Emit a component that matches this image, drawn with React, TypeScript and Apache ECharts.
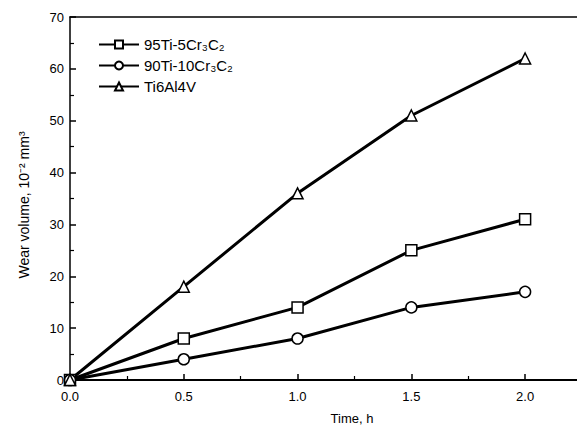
import React, { useEffect, useRef } from "react";
import * as echarts from "echarts";

const timeH = [0, 0.5, 1.0, 1.5, 2.0];
const s95Ti = [0, 8, 14, 25, 31];
const s90Ti = [0, 4, 8, 14, 17];
const sTi6Al4V = [0, 18, 36, 51, 62];
const seriesNames = ["95Ti-5Cr₃C₂", "90Ti-10Cr₃C₂", "Ti6Al4V"];
const seriesSymbols = ["rect", "circle", "triangle"];
const xTitle = "Time, h";
const yTitle = "Wear volume, 10⁻² mm³";

export default function App() {
  const ref = useRef<HTMLDivElement>(null);
  useEffect(() => {
    if (!ref.current) return;
    const chart = echarts.init(ref.current, undefined, { renderer: "svg" });
    const font = "Liberation Sans, Arial, sans-serif";
    const data = [s95Ti, s90Ti, sTi6Al4V];
    chart.setOption({
      animation: false,
      backgroundColor: "#fff",
      textStyle: { fontFamily: font, color: "#000" },
      grid: { left: 70, top: 17, bottom: 55, right: 1 },
      legend: {
        orient: "vertical",
        left: 93,
        top: 32,
        itemWidth: 40,
        itemHeight: 10,
        itemGap: 6,
        textStyle: { fontSize: 15, color: "#000", fontFamily: font },
        data: seriesNames,
      },
      graphic: [
        {
          type: "text",
          x: 352,
          y: 418,
          style: {
            text: xTitle,
            fontSize: 13,
            fontFamily: font,
            fill: "#000",
            textAlign: "center",
            textVerticalAlign: "middle",
          },
        },
        {
          type: "text",
          x: 24,
          y: 205,
          rotation: Math.PI / 2,
          style: {
            text: yTitle,
            fontSize: 14,
            fontFamily: font,
            fill: "#000",
            textAlign: "center",
            textVerticalAlign: "middle",
          },
        },
      ],
      xAxis: [
        {
          type: "value",
          min: 0,
          max: 2.25,
          interval: 0.5,
          axisLine: { lineStyle: { color: "#000", width: 2 } },
          axisTick: { inside: true, length: 6, lineStyle: { color: "#000", width: 1.5 } },
          minorTick: { show: true, splitNumber: 2, length: 4, lineStyle: { color: "#000", width: 1.2 } },
          axisLabel: {
            fontSize: 13,
            color: "#000",
            margin: 10,
            formatter: (v: number) => (v > 2.01 ? "" : v.toFixed(1)),
          },
          splitLine: { show: false },
        },
        {
          type: "value",
          position: "top",
          min: 0,
          max: 2.25,
          axisLine: { show: true, lineStyle: { color: "#000", width: 1.5 } },
          axisTick: { show: false },
          axisLabel: { show: false },
          splitLine: { show: false },
        },
      ],
      yAxis: {
        type: "value",
        min: 0,
        max: 70,
        interval: 10,
        axisLine: { show: true, lineStyle: { color: "#000", width: 1.5 } },
        axisTick: { inside: true, length: 6, lineStyle: { color: "#000", width: 1.5 } },
        minorTick: { show: true, splitNumber: 2, length: 4, lineStyle: { color: "#000", width: 1.2 } },
        axisLabel: { fontSize: 13, color: "#000", margin: 6 },
        splitLine: { show: false },
      },
      series: seriesNames.map((name, i) => ({
        name,
        type: "line",
        xAxisIndex: 0,
        data: timeH.map((t, j) => [t, data[i][j]]),
        symbol: seriesSymbols[i],
        symbolSize: 11,
        showAllSymbol: true,
        lineStyle: { color: "#000", width: 3 },
        itemStyle: { color: "#fff", borderColor: "#000", borderWidth: 1.5 },
        z: 3,
      })),
    });
    return () => chart.dispose();
  }, []);
  return <div ref={ref} style={{ width: 585, height: 435, margin: -8 }} />;
}
